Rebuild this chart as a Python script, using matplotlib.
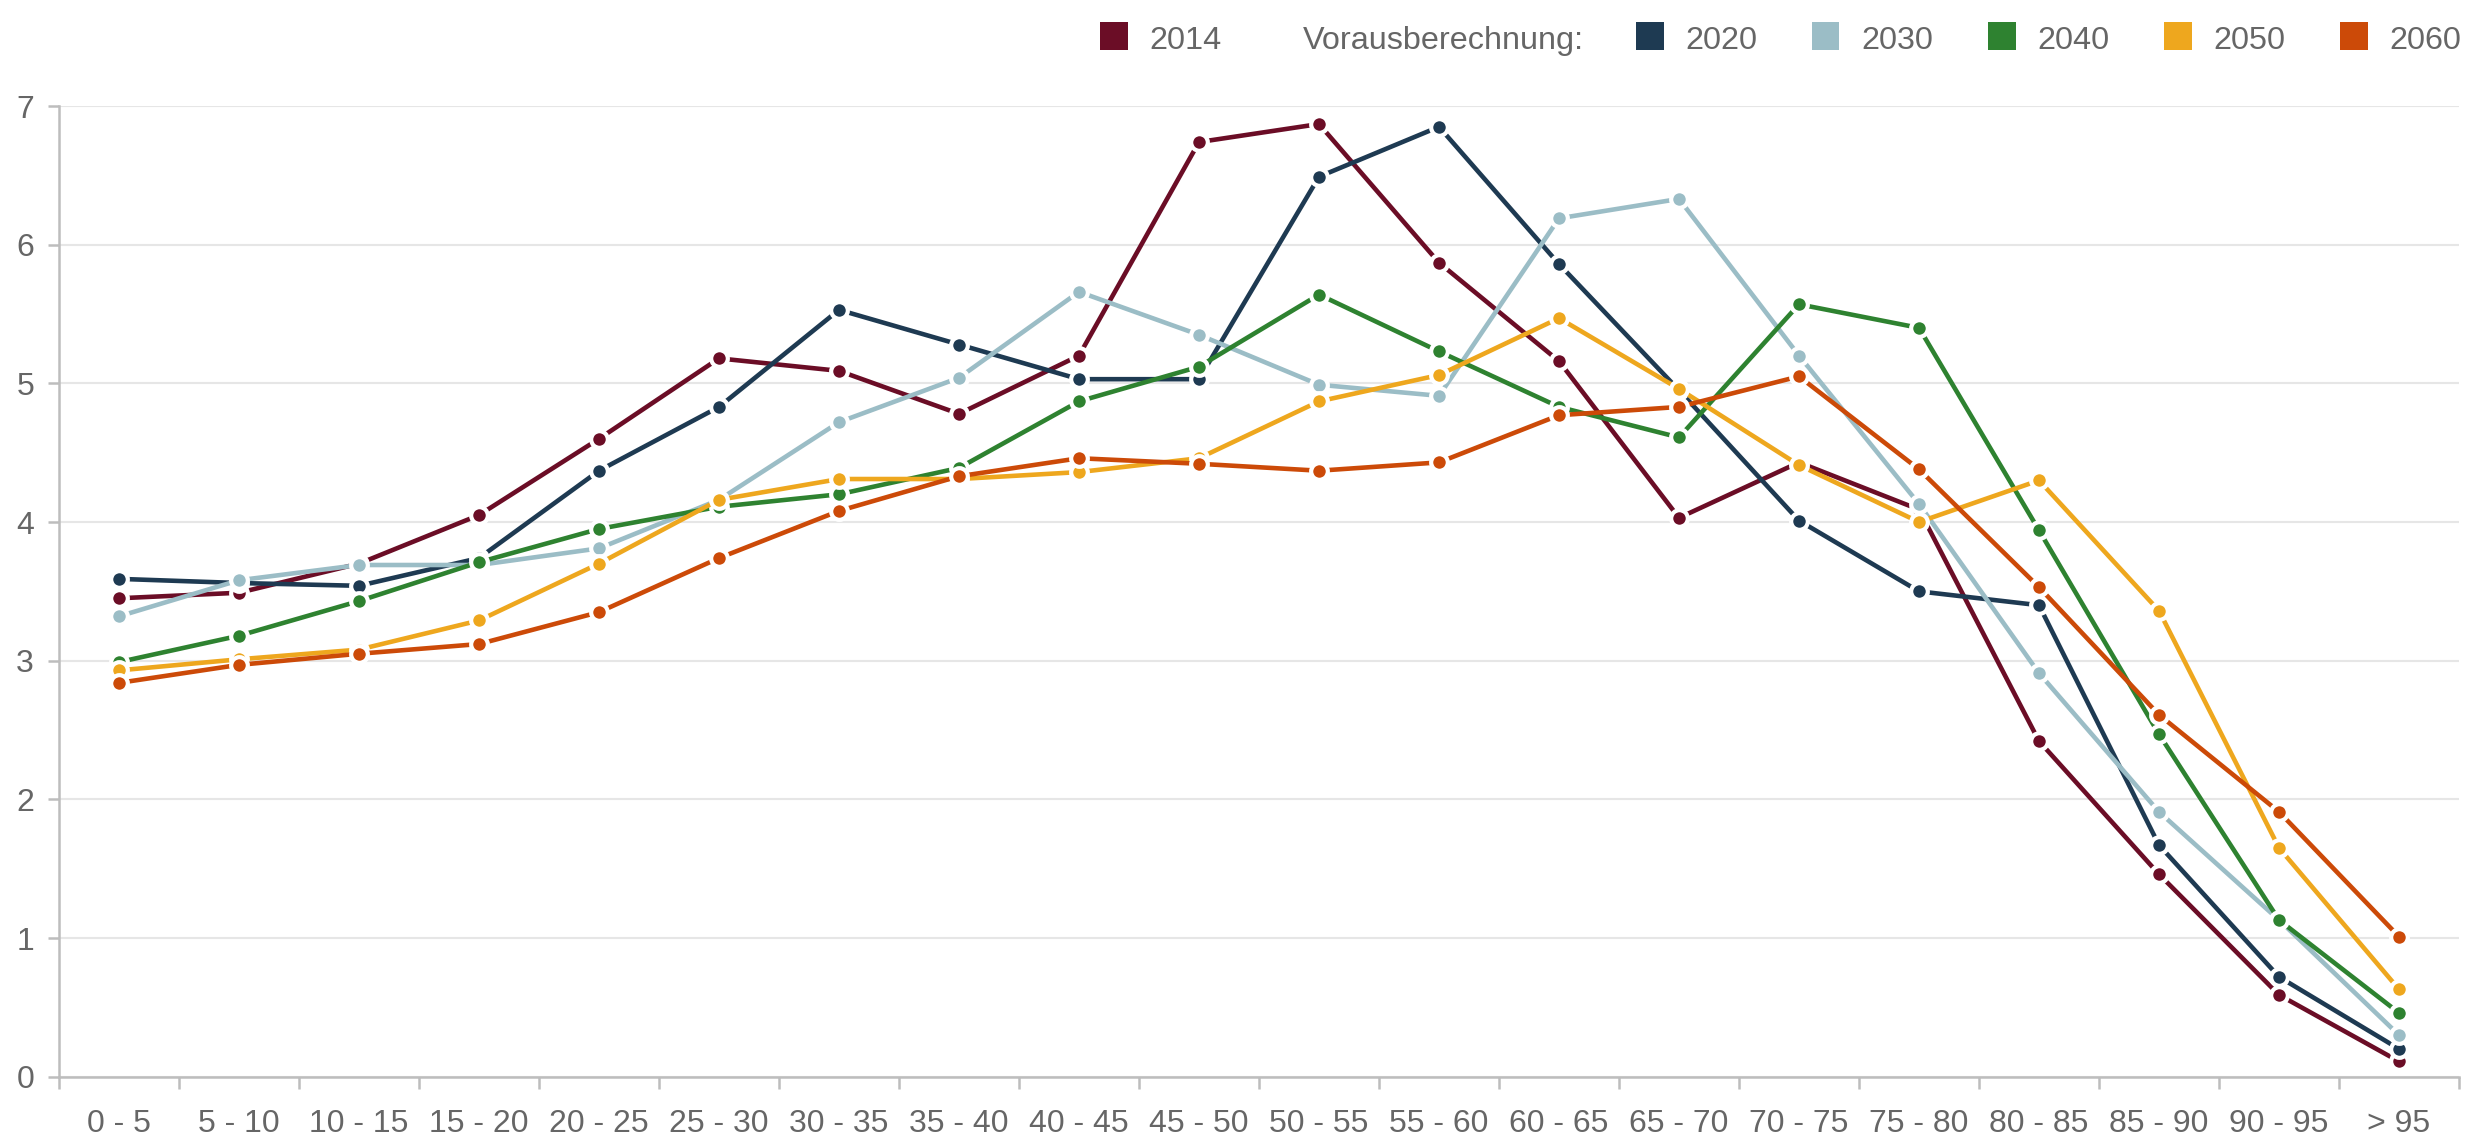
import matplotlib
matplotlib.use("Agg")
import matplotlib.pyplot as plt
from matplotlib.patches import Rectangle

W, H = 2483, 1145
DPI = 100

categories = ["0 - 5", "5 - 10", "10 - 15", "15 - 20", "20 - 25", "25 - 30", "30 - 35",
              "35 - 40", "40 - 45", "45 - 50", "50 - 55", "55 - 60", "60 - 65", "65 - 70",
              "70 - 75", "75 - 80", "80 - 85", "85 - 90", "90 - 95", "> 95"]

s2014 = [3.45, 3.49, 3.70, 4.05, 4.60, 5.18, 5.09, 4.78, 5.20, 6.74, 6.87, 5.87, 5.16, 4.03,
         4.43, 4.09, 2.42, 1.46, 0.59, 0.11]
s2020 = [3.59, 3.56, 3.54, 3.74, 4.37, 4.83, 5.53, 5.28, 5.03, 5.03, 6.49, 6.85, 5.86, 4.95,
         4.01, 3.50, 3.40, 1.67, 0.72, 0.20]
s2030 = [3.32, 3.58, 3.69, 3.69, 3.81, 4.16, 4.72, 5.04, 5.66, 5.35, 4.99, 4.91, 6.19, 6.33,
         5.20, 4.13, 2.91, 1.91, 1.13, 0.30]
s2040 = [2.99, 3.18, 3.43, 3.71, 3.95, 4.11, 4.20, 4.39, 4.87, 5.12, 5.64, 5.23, 4.83, 4.61,
         5.57, 5.40, 3.94, 2.47, 1.13, 0.46]
s2050 = [2.93, 3.01, 3.08, 3.29, 3.70, 4.16, 4.31, 4.31, 4.36, 4.46, 4.87, 5.06, 5.47, 4.96,
         4.41, 4.00, 4.30, 3.36, 1.65, 0.63]
s2060 = [2.84, 2.97, 3.05, 3.12, 3.35, 3.74, 4.08, 4.33, 4.46, 4.42, 4.37, 4.43, 4.77, 4.83,
         5.05, 4.38, 3.53, 2.61, 1.91, 1.01]

series_names = ["2014", "2020", "2030", "2040", "2050", "2060"]
series_values = [s2014, s2020, s2030, s2040, s2050, s2060]
colors = ["#6B0D26", "#1E3A52", "#9BBDC6", "#2E8230", "#EEA71E", "#CC4A08"]
yticks = [0, 1, 2, 3, 4, 5, 6, 7]
legend_label = "Vorausberechnung:"

plt.rcParams["font.family"] = ["Liberation Sans", "DejaVu Sans"]

fig = plt.figure(figsize=(W / DPI, H / DPI), dpi=DPI)
ax_left, ax_right = 59, 2459
ax_top, ax_bottom = 106, 1076.7
ax = fig.add_axes([ax_left / W, 1 - ax_bottom / H, (ax_right - ax_left) / W, (ax_bottom - ax_top) / H])

text_color = "#666666"
axis_color = "#BDBDBD"
grid_color = "#E6E6E6"

x = list(range(len(categories)))
for name, vals, col in zip(series_names, series_values, colors):
    ax.plot(x, vals, color=col, lw=3.3, marker="o", ms=12, mfc=col, mec="white",
            mew=3.0, zorder=3, clip_on=False)

ax.set_xlim(-0.5, len(categories) - 0.5)
ax.set_ylim(0, 7)
ax.set_yticks(yticks)
ax.set_yticklabels([str(v) for v in yticks])
ax.set_xticks(x)
ax.set_xticklabels(categories)
ax.set_xticks([i - 0.5 for i in range(len(categories) + 1)], minor=True)

ax.grid(axis="y", color=grid_color, lw=1.5, zorder=0)
ax.set_axisbelow(True)

for s in ["top", "right"]:
    ax.spines[s].set_visible(False)
for s in ["left", "bottom"]:
    ax.spines[s].set_color(axis_color)
    ax.spines[s].set_linewidth(1.8)

ax.tick_params(axis="x", which="major", length=0, pad=23, labelsize=23, labelcolor=text_color)
ax.tick_params(axis="x", which="minor", length=8.6, width=1.8, color=axis_color, direction="out")
ax.tick_params(axis="y", which="major", length=8, width=1.8, color=axis_color, pad=10,
               labelsize=23, labelcolor=text_color)

# Legend drawn manually at the top
leg_cy = 37.5
sq = 27.5
fs_leg = 23.3
def fx(px):
    return px / W
def fy(py):
    return 1 - py / H

square_x = {"2014": 1100, "2020": 1636, "2030": 1812, "2040": 1988, "2050": 2164, "2060": 2340}
for name, col in zip(series_names, colors):
    sx = square_x[name]
    fig.patches.append(Rectangle((fx(sx), fy(leg_cy + sq / 2 - 1.5)), sq / W, sq / H,
                                 transform=fig.transFigure, facecolor=col, edgecolor="none"))
    fig.text(fx(sx + sq + 22), fy(leg_cy), name, fontsize=fs_leg, color=text_color,
             ha="left", va="center_baseline")
fig.text(fx(1303), fy(leg_cy), legend_label, fontsize=fs_leg, color=text_color,
         ha="left", va="center_baseline")

fig.savefig("out.png", dpi=DPI)
